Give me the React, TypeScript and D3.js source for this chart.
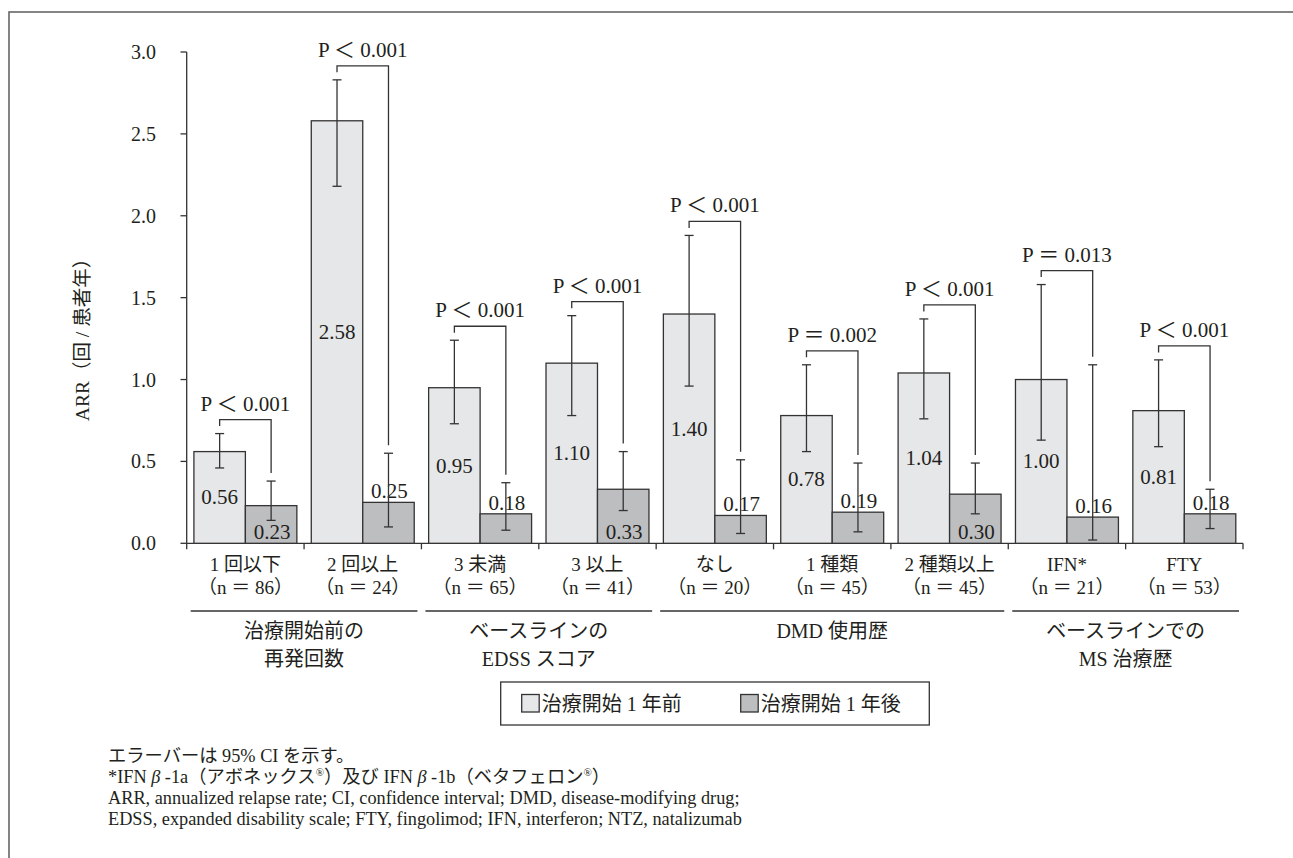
import React from 'react';
import * as d3 from 'd3';

const categories = ['1 回以下', '2 回以上', '3 未満', '3 以上', 'なし', '1 種類', '2 種類以上', 'IFN*', 'FTY'];
const nValues = [86, 24, 65, 41, 20, 45, 45, 21, 53];
const before = [0.56, 2.58, 0.95, 1.10, 1.40, 0.78, 1.04, 1.00, 0.81];
const beforeLow = [0.46, 2.18, 0.73, 0.78, 0.96, 0.56, 0.76, 0.63, 0.59];
const beforeHigh = [0.67, 2.83, 1.24, 1.39, 1.88, 1.09, 1.37, 1.58, 1.12];
const after = [0.23, 0.25, 0.18, 0.33, 0.17, 0.19, 0.30, 0.16, 0.18];
const afterLow = [0.14, 0.10, 0.08, 0.20, 0.06, 0.07, 0.18, 0.02, 0.09];
const afterHigh = [0.38, 0.55, 0.37, 0.56, 0.51, 0.49, 0.49, 1.09, 0.33];
const afterLabelInside = [true, false, false, true, false, false, true, false, false];
const pLabels = ['P ＜ 0.001', 'P ＜ 0.001', 'P ＜ 0.001', 'P ＜ 0.001', 'P ＜ 0.001', 'P ＝ 0.002', 'P ＜ 0.001', 'P ＝ 0.013', 'P ＜ 0.001'];
const groupLabels = [['治療開始前の', '再発回数'], ['ベースラインの', 'EDSS スコア'], ['DMD 使用歴'], ['ベースラインでの', 'MS 治療歴']];
const groupRanges = [[0, 1], [2, 3], [4, 6], [7, 8]];
const yTicks = [0, 0.5, 1.0, 1.5, 2.0, 2.5, 3.0];
const seriesNames = ['治療開始 1 年前', '治療開始 1 年後'];

const FONT = "'Liberation Serif', 'Noto Sans CJK JP', serif";
const INK = '#231f20';
const LINE = '#333';
const FILL_BEFORE = '#e6e7e8';
const FILL_AFTER = '#bdbec0';

export default function App() {
  const y = d3.scaleLinear().domain([0, 3]).range([543.3, 52]);
  const x = d3.scaleBand<string>().domain(categories).range([186.7, 1243]).paddingInner(0).paddingOuter(0);
  const xs = d3.scaleBand<string>().domain(['before', 'after']).range([0, x.bandwidth()]).paddingInner(0).paddingOuter(0.14);
  const bw = xs.bandwidth();
  const y0 = y(0);
  const cap = 4.5;

  const errBar = (cx: number, lo: number, hi: number, key: string) => (
    <g key={key} stroke={LINE} strokeWidth={1.3}>
      <line x1={cx} x2={cx} y1={y(lo)} y2={y(hi)} />
      <line x1={cx - cap} x2={cx + cap} y1={y(lo)} y2={y(lo)} />
      <line x1={cx - cap} x2={cx + cap} y1={y(hi)} y2={y(hi)} />
    </g>
  );

  return (
    <svg width={1293} height={858} style={{ position: 'absolute', left: 0, top: 0, display: 'block' }} fontFamily={FONT}>
      <rect x={0} y={0} width={1293} height={858} fill="#fff" />
      <rect x={9} y={12} width={1320} height={870} fill="none" stroke="#666" strokeWidth={1.6} />

      {/* Y axis */}
      <line x1={186.7} x2={186.7} y1={y(3)} y2={y0} stroke={LINE} strokeWidth={1.3} />
      {yTicks.map((t) => (
        <g key={'yt' + t}>
          <line x1={180.5} x2={186.7} y1={y(t)} y2={y(t)} stroke={LINE} strokeWidth={1.3} />
          <text x={156} y={y(t)} textAnchor="end" dominantBaseline="central" fontSize={20} fill={INK}>
            {d3.format('.1f')(t)}
          </text>
        </g>
      ))}
      <text transform={`translate(82.5,335) rotate(-90)`} textAnchor="middle" dominantBaseline="central" fontSize={19.5} fill={INK}>
        ARR（回 / 患者年）
      </text>

      {/* X axis */}
      <line x1={186.7} x2={1243} y1={y0} y2={y0} stroke={LINE} strokeWidth={1.3} />
      {categories.map((c, i) => (
        <line key={'xt' + i} x1={x(c)!} x2={x(c)!} y1={y0} y2={y0 + 6} stroke={LINE} strokeWidth={1.3} />
      ))}
      <line x1={1243} x2={1243} y1={y0} y2={y0 + 6} stroke={LINE} strokeWidth={1.3} />

      {/* Bars */}
      {categories.map((c, i) => {
        const bx = x(c)! + xs('before')!;
        const ax = x(c)! + xs('after')!;
        const bcx = bx + bw / 2;
        const acx = ax + bw / 2;
        const bracketTop = y(beforeHigh[i]) - 14;
        const leftEnd = bracketTop + 6.5;
        const rightEnd = y(afterHigh[i]) - 8;
        const catCenter = x(c)! + x.bandwidth() / 2;
        return (
          <g key={'bar' + i}>
            <rect x={bx} y={y(before[i])} width={bw} height={y0 - y(before[i])} fill={FILL_BEFORE} stroke={LINE} strokeWidth={1.3} />
            <rect x={ax} y={y(after[i])} width={bw} height={y0 - y(after[i])} fill={FILL_AFTER} stroke={LINE} strokeWidth={1.3} />
            <text x={bcx} y={y(before[i] / 2)} textAnchor="middle" dominantBaseline="central" fontSize={21} fill={INK}>
              {d3.format('.2f')(before[i])}
            </text>
            <text x={acx + 1} y={afterLabelInside[i] ? y0 - 4.5 : y(after[i]) - 4} textAnchor="middle" fontSize={21} fill={INK}>
              {d3.format('.2f')(after[i])}
            </text>
            {errBar(bcx, beforeLow[i], beforeHigh[i], 'eb' + i)}
            {errBar(acx, afterLow[i], afterHigh[i], 'ea' + i)}
            <path d={`M${bcx},${leftEnd}V${bracketTop}H${acx}V${rightEnd}`} fill="none" stroke={LINE} strokeWidth={1.3} />
            <text x={catCenter} y={bracketTop - 9} textAnchor="middle" fontSize={21} fill={INK}>
              {pLabels[i]}
            </text>
            <text x={catCenter} y={571} textAnchor="middle" fontSize={19} fill={INK}>{c}</text>
            <text x={catCenter} y={594} textAnchor="middle" fontSize={19} fill={INK}>{`（n ＝ ${nValues[i]}）`}</text>
          </g>
        );
      })}

      {/* Groups */}
      {groupRanges.map((r, gi) => {
        const x1 = x(categories[r[0]])! + 4;
        const x2 = x(categories[r[1]])! + x.bandwidth() - 4;
        const cx = (x1 + x2) / 2;
        return (
          <g key={'g' + gi}>
            <line x1={x1} x2={x2} y1={611} y2={611} stroke={LINE} strokeWidth={1.3} />
            {groupLabels[gi].map((l, li) => (
              <text key={li} x={cx} y={638 + li * 28} textAnchor="middle" fontSize={20} fill={INK}>{l}</text>
            ))}
          </g>
        );
      })}

      {/* Legend */}
      <rect x={500.7} y={682} width={428.6} height={43} fill="#fff" stroke={LINE} strokeWidth={1.3} />
      {seriesNames.map((s, i) => {
        const lx = i === 0 ? 521.7 : 740.7;
        return (
          <g key={'lg' + i}>
            <rect x={lx} y={694.5} width={17.5} height={17.5} fill={i === 0 ? FILL_BEFORE : FILL_AFTER} stroke={LINE} strokeWidth={1.3} />
            <text x={lx + 20} y={703.5} dominantBaseline="central" fontSize={20} fill={INK}>{s}</text>
          </g>
        );
      })}

      {/* Footnotes */}
      <g fontSize={18.3} fill={INK}>
        <text x={108} y={762}>エラーバーは 95% CI を示す。</text>
        <text x={108} y={783}>
          *IFN <tspan fontStyle="italic">β</tspan> -1a（アボネックス<tspan fontSize={11} dy={-7}>®</tspan><tspan dy={7}>）及び IFN </tspan><tspan fontStyle="italic">β</tspan> -1b（ベタフェロン<tspan fontSize={11} dy={-7}>®</tspan><tspan dy={7}>）</tspan>
        </text>
        <text x={108} y={804}>ARR, annualized relapse rate; CI, confidence interval; DMD, disease-modifying drug;</text>
        <text x={108} y={825}>EDSS, expanded disability scale; FTY, fingolimod; IFN, interferon; NTZ, natalizumab</text>
      </g>
    </svg>
  );
}
